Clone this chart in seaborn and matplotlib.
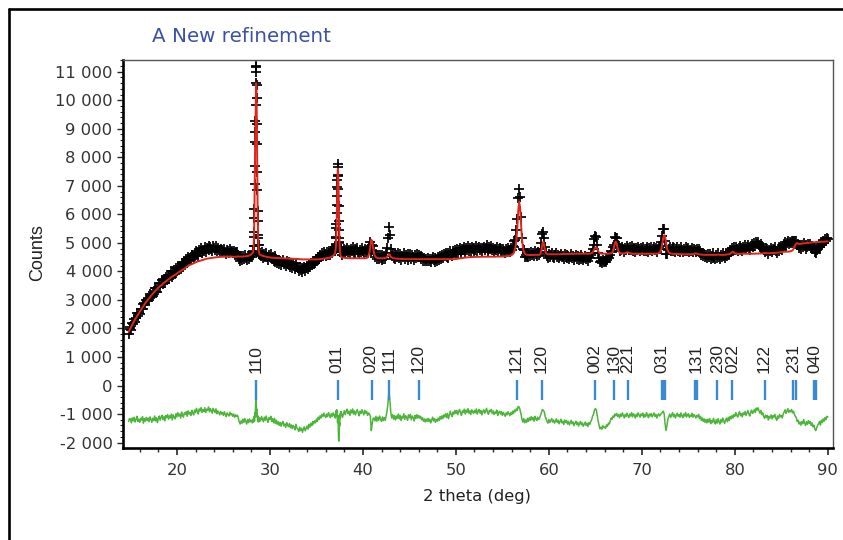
import numpy as np
import pandas as pd
import matplotlib
matplotlib.use('Agg')
import matplotlib.pyplot as plt
from matplotlib.lines import Line2D
from matplotlib.ticker import MultipleLocator, FuncFormatter
import seaborn as sns

# calculated profile (counts) and residual obs-calc.
# 0.1 deg steps, 0.02 deg steps across the sharp 110 and 011 peaks
start_a = 14.8
calc_a = [1875, 1940,
          2005, 2070, 2135, 2195, 2255, 2315, 2370, 2425, 2480, 2535,
          2585, 2640, 2690, 2740, 2790, 2840, 2885, 2930, 2975, 3020,
          3060, 3100, 3140, 3180, 3220, 3255, 3290, 3325, 3360, 3395,
          3425, 3455, 3485, 3515, 3545, 3575, 3600, 3625, 3650, 3675,
          3700, 3725, 3750, 3775, 3800, 3820, 3840, 3860, 3880, 3900,
          3930, 3955, 3975, 3995, 4015, 4035, 4055, 4075, 4095, 4115,
          4150, 4170, 4190, 4210, 4225, 4240, 4255, 4270, 4285, 4300,
          4315, 4330, 4345, 4355, 4365, 4375, 4385, 4395, 4405, 4415,
          4425, 4435, 4445, 4450, 4455, 4460, 4465, 4470, 4475, 4480,
          4485, 4490, 4495, 4500, 4500, 4505, 4505, 4510, 4510, 4510,
          4515, 4515, 4515, 4515, 4515, 4515, 4515, 4515, 4515, 4515,
          4515, 4515, 4515, 4515, 4520, 4520, 4520, 4520, 4520, 4520,
          4520, 4520, 4525, 4525, 4530, 4535, 4540, 4550, 4560, 4575,
          4600, 4630, 4680]
resid_a = [-60, 40,
           30, -110, 60, -40, 90, -80, 10, 120, -60, 20,
           -90, 50, -10, 110, -120, 40, -50, 80, -30, 60,
           -70, 100, 20, -90, 50, -30, 130, -40, 70, -100,
           40, 130, -20, 90, 160, 0, 110, -40, 150, 70,
           180, 20, 140, 60, 200, -10, 170, 90, 30, 210,
           100, 250, 130, 200, 60, 270, 160, 90, 240, 190,
           280, 120, 310, 200, 260, 150, 330, 230, 170, 340,
           250, 400, 290, 200, 380, 310, 430, 260, 360, 290,
           420, 250, 370, 330, 450, 280, 390, 310, 230, 400,
           330, 250, 380, 210, 310, 260, 170, 290, 200, 250,
           150, 280, 180, 110, 240, 190, 130, 260, 170, 210,
           120, 200, 90, 170, 110, 160, 60, -80, -150, -40,
           -120, 20, -90, 40, -60, -150, 10, -100, 30, -70,
           -20, -110, 10]

start_p1 = 28.22
calc_p1 = [4750, 4850, 4980, 5150, 5400, 5750, 6250, 6900, 7600, 8300,
           8750, 8900, 9300, 9950, 10450, 10600, 10550, 10250, 9700, 9000,
           8200, 7400, 6700, 6100, 5650, 5320, 5090, 4940, 4830, 4750,
           4690, 4650, 4620, 4600]
resid_p1 = [-60, 40, -80, 60, -20, 120, -50, 180, 90, 250,
            150, 380, 520, 650, 720, 600, 450, 300, 380, 180,
            250, 90, 160, 20, 110, -60, 70, -20, 90, -80,
            40, -50, 60, -30]

start_b = 28.9
calc_b = [4590,
          4575, 4560, 4550, 4540, 4530, 4520, 4510, 4505, 4500, 4495,
          4490, 4485, 4480, 4480, 4475, 4475, 4470, 4470, 4470, 4465,
          4465, 4465, 4460, 4460, 4460, 4460, 4455, 4455, 4455, 4455,
          4450, 4450, 4450, 4445, 4445, 4445, 4440, 4440, 4440, 4435,
          4435, 4430, 4430, 4425, 4425, 4420, 4420, 4420, 4420, 4420,
          4420, 4420, 4420, 4420, 4420, 4420, 4420, 4420, 4420, 4420,
          4420, 4420, 4425, 4425, 4430, 4435, 4440, 4445, 4450, 4455,
          4460, 4465, 4470, 4475, 4485, 4495, 4510, 4530, 4555, 4585,
          4620]
resid_b = [60,
           -40, 110, 20, -70, 90, -20, 130, 0, -90, 70,
           10, 120, -60, 40, -110, 50, -130, -20, -160, -70,
           -200, -90, -230, -120, -60, -210, -150, -270, -100, -190,
           -240, -130, -280, -180, -310, -200, -250, -350, -160, -290,
           -330, -410, -260, -380, -300, -440, -330, -250, -390, -300,
           -220, -330, -160, -260, -120, -210, -60, -150, -40, -110,
           20, -60, 90, 10, 140, 60, 190, 110, 230, 140,
           80, 200, 110, 250, 160, 70, 210, 120, 240, 150,
           100]

start_p2 = 37.02
calc_p2 = [4660, 4700, 4750, 4820, 4910, 5030, 5200, 5420, 5700, 6050,
           6450, 6850, 7200, 7450, 7580, 7600, 7520, 7300, 6950, 6500,
           6050, 5650, 5330, 5080, 4900, 4780, 4690, 4630, 4590, 4560,
           4540, 4520, 4510, 4500]
resid_p2 = [180, 60, 220, 120, 260, 180, 320, 250, 350, 280,
            200, 120, 0, -100, 80, 150, -150, -400, -650, -750,
            -600, -480, -300, -100, -220, 40, 150, 60, 220, 130,
            260, 170, 290, 200]

start_c = 37.7
calc_c = [4495, 4485, 4480,
          4475, 4470, 4470, 4465, 4465, 4465, 4460, 4460, 4460, 4460,
          4460, 4460, 4460, 4460, 4460, 4460, 4460, 4460, 4460, 4460,
          4460, 4460, 4460, 4465, 4470, 4490, 4540, 4660, 4900, 5110,
          5060, 4830, 4640, 4540, 4495, 4475, 4465, 4460, 4460, 4460,
          4460, 4460, 4460, 4465, 4470, 4480, 4510, 4560, 4600, 4570,
          4520, 4490, 4470, 4460, 4455, 4450, 4450, 4445, 4445, 4440,
          4440, 4440, 4435, 4435, 4435, 4430, 4430, 4430, 4430, 4430,
          4430, 4430, 4430, 4430, 4430, 4430, 4430, 4430, 4430, 4430,
          4430, 4430, 4430, 4430, 4430, 4430, 4430, 4430, 4430, 4430,
          4430, 4430, 4430, 4430, 4430, 4430, 4430, 4430, 4430, 4430,
          4430, 4430, 4430, 4430, 4430, 4430, 4430, 4430, 4430, 4430,
          4430, 4430, 4430, 4430, 4430, 4430, 4430, 4430, 4430, 4430,
          4435, 4440, 4445, 4450, 4455, 4460, 4465, 4470, 4475, 4480,
          4485, 4490, 4490, 4495, 4495, 4500, 4500, 4500, 4505, 4505,
          4505, 4510, 4510, 4510, 4510, 4510, 4510, 4515, 4515, 4515,
          4515, 4515, 4515, 4515, 4515, 4515, 4515, 4515, 4515, 4515,
          4515, 4515, 4515, 4520, 4520, 4520, 4520, 4520, 4520, 4520,
          4520, 4525, 4525, 4530, 4530, 4535, 4540, 4545, 4550, 4560,
          4575, 4600, 4640, 4710, 4830, 5060, 5500, 6100, 6440, 6250,
          5700, 5150, 4850, 4700, 4630, 4600, 4585, 4580, 4575, 4575,
          4575, 4575, 4575, 4575, 4575, 4580, 4580, 4580, 4580, 4580,
          4585, 4620, 4760, 4960, 5040, 4900, 4720, 4640, 4610, 4600,
          4600, 4600, 4600, 4600, 4600, 4600, 4600, 4600, 4600, 4600,
          4600, 4600, 4605, 4605, 4605, 4605, 4610, 4610, 4610, 4610,
          4610, 4610, 4615, 4615, 4615, 4615, 4615, 4615, 4620, 4620,
          4620, 4620, 4620, 4620, 4620, 4620, 4620, 4620, 4620, 4620,
          4620, 4620, 4620, 4620, 4625, 4630, 4640, 4660, 4720, 4790,
          4835, 4840, 4790, 4710, 4660, 4635, 4625, 4620, 4620, 4620,
          4620, 4620, 4620, 4620, 4620, 4625, 4630, 4640, 4660, 4720,
          4850, 4990, 5040, 4950, 4800, 4700, 4650, 4635, 4630, 4630,
          4630, 4635, 4640, 4650, 4665, 4670, 4655, 4640, 4630, 4625,
          4620, 4620, 4620, 4620, 4620, 4620, 4620, 4620, 4620, 4620,
          4620, 4620, 4620, 4620, 4620, 4620, 4620, 4620, 4620, 4620,
          4620, 4620, 4620, 4620, 4620, 4620, 4625, 4630, 4640, 4660,
          4700, 4800, 4980, 5180, 5270, 5200, 5000, 4820, 4720, 4670,
          4640, 4630, 4625, 4620, 4620, 4615, 4615, 4610, 4610, 4610,
          4605, 4605, 4605, 4600, 4600, 4600, 4600, 4600, 4600, 4600,
          4600, 4600, 4600, 4600, 4600, 4605, 4610, 4625, 4635, 4620,
          4605, 4600, 4595, 4590, 4590, 4585, 4585, 4580, 4580, 4580,
          4580, 4580, 4580, 4580, 4580, 4580, 4580, 4580, 4580, 4580,
          4580, 4585, 4590, 4585, 4580, 4580, 4580, 4580, 4580, 4585,
          4585, 4590, 4595, 4600, 4610, 4625, 4650, 4680, 4690, 4670,
          4640, 4620, 4610, 4610, 4610, 4615, 4615, 4620, 4620, 4620,
          4620, 4620, 4620, 4620, 4620, 4620, 4620, 4620, 4620, 4620,
          4620, 4620, 4625, 4625, 4625, 4625, 4630, 4630, 4630, 4630,
          4630, 4635, 4645, 4650, 4640, 4635, 4635, 4635, 4640, 4640,
          4640, 4645, 4645, 4650, 4650, 4655, 4660, 4660, 4665, 4670,
          4675, 4680, 4685, 4690, 4690, 4690, 4690, 4690, 4695, 4700,
          4710, 4720, 4740, 4780, 4850, 4930, 4980, 4990, 4970, 4960,
          4960, 4970, 4975, 4980, 4985, 4990, 4990, 4995, 5000, 5000,
          5005, 5010, 5010, 5015, 5020, 5020, 5025, 5025, 5030, 5030,
          5030, 5035, 5035, 5040, 5040, 5040, 5045, 5045, 5050, 5050,
          5050]
resid_c = [220, 80, 190,
           320, 180, 290, 370, 210, 300, 150, 340, 240, 380,
           200, 310, 170, 280, 360, 230, 140, 300, 220, 350,
           260, 170, 330, 230, 290, 150, 240, 200, 120, -380,
           -150, 50, 60, -40, 120, -50, 90, -20, 130, 20,
           -60, 100, -30, 80, -20, 150, 300, 600, 960, 700,
           250, 60, 180, 20, 150, -10, 130, 50, 200, 30,
           160, -30, 120, 60, 210, 10, 140, 90, -20, 170,
           70, 190, 0, 130, 80, -40, 150, 40, 180, 60,
           150, 60, 120, 0, 70, -50, 30, -80, 20, -60,
           50, -60, 20, -110, -10, 90, -40, 40, -90, 10,
           -50, 60, -30, 110, 20, 140, 40, 170, 100, 210,
           80, 220, 40, 160, 300, 180, 110, 270, 200, 330,
           220, 330, 180, 290, 360, 240, 150, 310, 260, 370,
           200, 340, 260, 390, 230, 310, 180, 350, 280, 220,
           330, 250, 380, 200, 300, 360, 230, 320, 170, 290,
           350, 230, 300, 400, 260, 190, 330, 280, 360, 220,
           310, 180, 270, 230, 340, 150, 260, 300, 200, 280,
           150, 260, 190, 120, 240, 170, 280, 210, 140, 250,
           180, 300, 220, 340, 280, 380, 330, 470, 440, 350,
           200, 30, -80, 40, -110, -10, -90, 50, -60, 70,
           -20, 110, 0, 80, -50, 120, 30, -30, 90, 10,
           60, 150, 250, 360, 330, 280, 120, 40, -60, -120,
           10, -100, -30, 40, -80, -10, -120, -40, 30, -90,
           -20, -140, -60, 20, -110, -50, -170, -10, -90, -30,
           -150, -60, -180, -100, -20, -140, -80, -210, -120, -50,
           -170, -90, -220, -130, -60, -180, -110, -230, -150, -80,
           -200, -120, -240, -100, -160, -60, 0, 120, 200, 330,
           390, 350, 150, -50, -200, -320, -260, -330, -210, -280,
           -250, -300, -180, -230, -120, -150, -40, 60, 20, 130,
           90, 200, 140, 220, 110, 180, 70, 200, 120, 240,
           160, 60, 190, 110, 230, 140, 80, 200, 130, 250,
           100, 210, 150, 60, 190, 120, 240, 170, 90, 200,
           140, 230, 80, 180, 110, 250, 160, 70, 200, 130,
           220, 100, 170, 240, 120, 190, 60, 150, 210, 130,
           180, 220, 250, 300, 200, -150, -380, -200, 20, 120,
           200, 80, 170, 250, 110, 190, 60, 160, 230, 120,
           180, 90, 240, 140, 70, 200, 130, 250, 100, 170,
           210, 80, 160, 120, 230, 90, 180, 140, 60, 150,
           100, 190, 40, 120, -20, 60, -60, 30, -90, 10,
           -110, 20, -80, 40, -140, -30, -100, 50, -60, -150,
           0, -120, 40, -70, -150, 10, -90, 60, -40, -130,
           -20, 50, -70, 80, -30, 120, 30, 150, 60, 180,
           120, 250, 160, 90, 220, 280, 140, 210, 100, 240,
           180, 290, 150, 230, 320, 200, 130, 260, 340, 220,
           280, 360, 250, 410, 340, 420, 300, 230, 330, 180,
           240, 110, 50, 160, 80, 150, -10, 120, 60, 170,
           30, 140, 90, 190, 60, -20, 130, 50, 180, 100,
           150, 60, 200, 280, 350, 220, 310, 390, 260, 330,
           280, 360, 240, 300, 200, 120, 80, -60, -20, -150,
           -80, -190, -60, -140, 10, -110, -200, -70, -160, -30,
           -130, -60, -200, -110, -250, -190, -330, -380, -280, -200,
           -140, -60, -190, -20, -100, 30, -50, 80, 0, 120,
           100]

diff_offset = -1200

# reflection markers and their hkl labels
bragg_pos = [28.5, 37.3, 41.0, 42.8, 46.05, 56.55, 59.27, 64.95, 67.03, 68.47,
             72.18, 72.3, 72.47, 75.72, 75.98, 78.13, 79.68, 83.22, 86.24, 86.53,
             88.5, 88.75]
hkl_pos = [28.5, 37.2, 40.9, 42.8, 45.95, 56.5, 59.2, 64.9, 67.03, 68.5,
           72.1, 75.8, 78.1, 79.8, 83.15, 86.35, 88.65]
hkl_labels = ['110', '011', '020', '111', '120', '121', '120', '002', '130', '221',
              '031', '131', '230', '022', '122', '231', '040']


def segment(start, step, calc, resid):
    x = start + step * np.arange(len(calc))
    return pd.DataFrame({'two_theta': np.round(x, 2), 'calc': calc, 'resid': resid})


df = pd.concat([segment(start_a, 0.1, calc_a, resid_a),
                segment(start_p1, 0.02, calc_p1, resid_p1),
                segment(start_b, 0.1, calc_b, resid_b),
                segment(start_p2, 0.02, calc_p2, resid_p2),
                segment(start_c, 0.1, calc_c, resid_c)], ignore_index=True)
df = df.sort_values('two_theta').reset_index(drop=True)
df['obs'] = df['calc'] + df['resid']
df['diff'] = df['resid'] + diff_offset

sns.set_style('ticks')
plt.rcParams['font.family'] = ['DejaVu Sans']
narrow = ['Liberation Sans', 'DejaVu Sans']

fig = plt.figure(figsize=(8.43, 5.40), dpi=100)
ax = fig.add_axes([0.1459, 0.1704, 0.8422, 0.7185])

sns.scatterplot(data=df, x='two_theta', y='obs', marker='+', color='black',
                s=50, linewidth=1.25, ax=ax, zorder=2, legend=False)
sns.lineplot(data=df, x='two_theta', y='calc', color='#e0251c', lw=1.4,
             estimator=None, ax=ax, zorder=3)
sns.lineplot(data=df, x='two_theta', y='diff', color='#4cb53a', lw=1.1,
             estimator=None, ax=ax, zorder=3)
ax.vlines(bragg_pos, -500, 180, color='#3a8ad2', lw=1.7, zorder=3)
for p, lab in zip(hkl_pos, hkl_labels):
    ax.text(p, 430, lab, rotation=90, ha='center', va='bottom',
            fontsize=12.5, color='#222222', family=narrow)

ax.set_xlim(14.2, 90.55)
ax.set_ylim(-2190, 11410)
ax.set_xlabel('')
ax.set_ylabel('')
ax.xaxis.set_major_locator(MultipleLocator(10))
ax.xaxis.set_minor_locator(MultipleLocator(2))
ax.yaxis.set_major_locator(MultipleLocator(1000))
ax.yaxis.set_minor_locator(MultipleLocator(200))
ax.yaxis.set_major_formatter(FuncFormatter(lambda v, p: f'{int(round(v)):,}'.replace(',', ' ')))

ax.tick_params(axis='x', which='major', length=5, width=1.2, pad=6,
               labelsize=11.8, labelcolor='#333333')
ax.tick_params(axis='x', which='minor', length=3, width=1.0)
ax.tick_params(axis='y', which='major', length=4.5, width=1.0, pad=3,
               labelsize=11.8, labelcolor='#333333')
ax.tick_params(axis='y', which='minor', length=2, width=0.8)

for s in ['left', 'bottom']:
    ax.spines[s].set_linewidth(1.9)
    ax.spines[s].set_color('black')
for s in ['top', 'right']:
    ax.spines[s].set_visible(True)
    ax.spines[s].set_linewidth(1.0)
    ax.spines[s].set_color('#555555')

fig.text(152 / 843, 1 - 36 / 540, 'A New refinement', ha='left', va='center',
         fontsize=14.3, color='#3c50a5')
fig.text(38 / 843, 1 - 253 / 540, 'Counts', rotation=90, ha='center', va='center',
         fontsize=13, color='#222222', family=narrow)
fig.text(477 / 843, 1 - 496 / 540, '2 theta (deg)', ha='center', va='center',
         fontsize=11.8, color='#222222')

# partial screenshot frame (top and left edges)
fig.add_artist(Line2D([9 / 843, 9 / 843], [0, 1 - 9 / 540], color='black', lw=1.9,
                      transform=fig.transFigure))
fig.add_artist(Line2D([9 / 843, 1], [1 - 9 / 540, 1 - 9 / 540], color='black', lw=1.9,
                      transform=fig.transFigure))

fig.savefig('out.png', dpi=100)
